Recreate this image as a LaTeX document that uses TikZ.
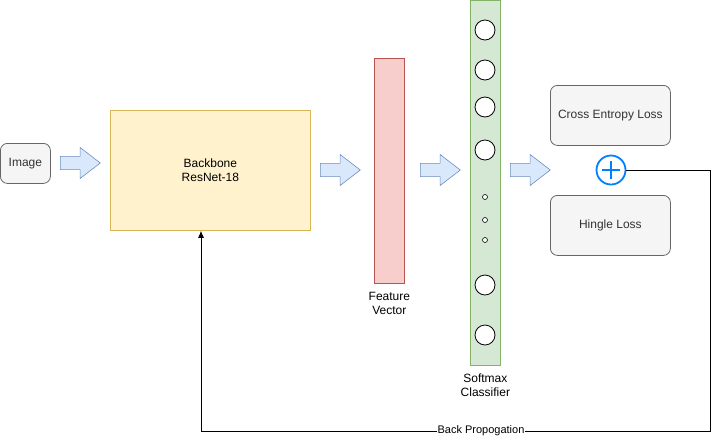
\documentclass[tikz,border=0pt]{standalone}
\usepackage{fontspec}
\setmainfont{Liberation Sans}
\usetikzlibrary{arrows.meta,shapes.arrows}

\definecolor{yelFill}{HTML}{FFF2CC}
\definecolor{yelLine}{HTML}{D6B656}
\definecolor{redFill}{HTML}{F8CECC}
\definecolor{redLine}{HTML}{B85450}
\definecolor{grnFill}{HTML}{D5E8D4}
\definecolor{grnLine}{HTML}{82B366}
\definecolor{bluFill}{HTML}{DAE8FC}
\definecolor{bluLine}{HTML}{6C8EBF}
\definecolor{gryFill}{HTML}{F5F5F5}
\definecolor{gryLine}{HTML}{666666}
\definecolor{gryText}{HTML}{333333}
\definecolor{plusBlue}{HTML}{007FFF}

\begin{document}
\begin{tikzpicture}[x=1pt, y=-1pt,
    font=\fontsize{12}{14}\selectfont,
    graybox/.style={draw=gryLine, fill=gryFill, text=gryText, rounded corners=7pt, line width=0.8pt},
    blockarrow/.style={draw=bluLine, fill=bluFill, single arrow, single arrow tip angle=75,
        minimum height=40pt, minimum width=31pt, inner sep=5pt, line width=0.6pt, anchor=tail},
    neuron/.style={draw, fill=white, circle, minimum size=20pt, inner sep=0pt, line width=0.8pt},
    dotn/.style={draw, fill=white, circle, minimum size=5pt, inner sep=0pt, line width=0.6pt}]
\useasboundingbox (0,0) rectangle (720,440);

\node[graybox, minimum width=50pt, minimum height=40pt, anchor=north west] (img) at (0,143) {Image};

\node[blockarrow] (a1) at (60,163) {};

\node[draw=yelLine, fill=yelFill, line width=0.8pt, minimum width=200pt, minimum height=120pt,
    anchor=north west, align=center] (backbone) at (110,110) {Backbone\\ResNet-18};

\node[blockarrow] (a2) at (320,170) {};

\node[draw=redLine, fill=redFill, line width=0.8pt, minimum width=30pt, minimum height=225pt,
    anchor=north west] (feat) at (374,58) {};
\node[align=center, anchor=north, yshift=-5pt] (featlbl) at (feat.south) {Feature\\Vector};

\node[blockarrow] (a3) at (420,170) {};

\node[draw=grnLine, fill=grnFill, line width=0.8pt, minimum width=30pt, minimum height=365pt,
    anchor=north west] (soft) at (470,0) {};
\node[align=center, anchor=north, yshift=-4pt] (softlbl) at (soft.south) {Softmax\\Classifier};

% neurons
\foreach \y [count=\i] in {30,70,107,150,285,335}
    \node[neuron] (n\i) at (485,\y) {};
\foreach \y [count=\i] in {197,220,240}
    \node[dotn] (d\i) at (485,\y) {};

\node[blockarrow] (a4) at (510,170) {};

\node[graybox, minimum width=120pt, minimum height=60pt, anchor=north west] (ce) at (550,85) {Cross Entropy Loss};
\node[graybox, minimum width=120pt, minimum height=60pt, anchor=north west] (hinge) at (550,195) {Hingle Loss};

\node[draw=plusBlue, circle, line width=1.8pt, minimum size=29pt, inner sep=0pt] (plus) at (611,170) {};
\draw[plusBlue, line width=1.8pt] (plus.center) ++(-9,0) -- ++(18,0);
\draw[plusBlue, line width=1.8pt] (plus.center) ++(0,-9) -- ++(0,18);

% back propagation loop
\coordinate (c1) at (710,170);
\coordinate (c2) at (710,431);
\coordinate (c3) at (201,431);
\draw[-{Latex[length=7pt,width=6pt]}, line width=0.8pt] (plus.east) -- (c1) -- (c2) -- (c3) -- (backbone.south -| c3);
\node[fill=white, inner sep=1pt, font=\fontsize{11}{13}\selectfont] (bp) at (481,431) {Back Propogation};
\end{tikzpicture}
\end{document}
